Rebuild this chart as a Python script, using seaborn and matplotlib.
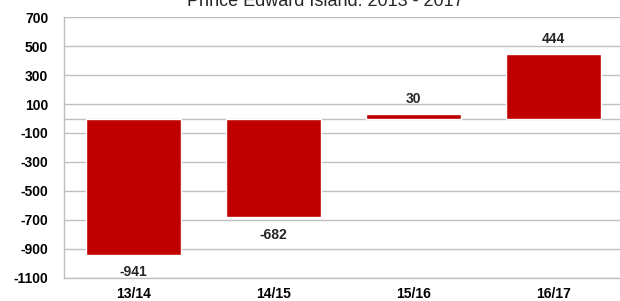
import matplotlib
matplotlib.use("Agg")
import matplotlib.pyplot as plt
import seaborn as sns
import pandas as pd

categories = ["13/14", "14/15", "15/16", "16/17"]
values = [-941, -682, 30, 444]
yticks = list(range(-1100, 701, 200))
title = "Prince Edward Island: 2013 - 2017"

sns.set_theme(style="white")
plt.rcParams["font.family"] = ["Liberation Sans", "DejaVu Sans"]

fig = plt.figure(figsize=(6.2, 3.01), dpi=100)
ax = fig.add_axes([63.5 / 620, 23.3 / 301, 560 / 620, 260.5 / 301])

df = pd.DataFrame({"cat": categories, "val": values})
sns.barplot(data=df, x="cat", y="val", color="#C00000", saturation=1,
            width=0.68, ax=ax, zorder=3)

fs = 10
ax.set_ylim(-1100, 700)
ax.set_xlim(-0.5, 3.5)
ax.set_yticks(yticks)
ax.set_yticklabels([str(t) for t in yticks], fontsize=fs, fontweight="bold")
ax.set_xticklabels(categories, fontsize=fs, fontweight="bold")
ax.set_xlabel("")
ax.set_ylabel("")
ax.tick_params(axis="both", length=0, colors="black")
ax.tick_params(axis="y", pad=11)
ax.tick_params(axis="x", pad=6.5)

for t in yticks:
    ax.axhline(t, color="#bfbfbf", lw=1, zorder=1)
ax.axhline(0, color="#bfbfbf", lw=1, zorder=1)

for s in ["top", "right"]:
    ax.spines[s].set_visible(False)
for s in ["left", "bottom"]:
    ax.spines[s].set_color("#bfbfbf")
    ax.spines[s].set_linewidth(1)

for i, v in enumerate(values):
    off = 11 if v >= 0 else -12.5
    ax.annotate(str(v), (i, v), xytext=(0, off), textcoords="offset points",
                ha="center", va="center", fontsize=fs, fontweight="bold")

fig.text(325 / 620, (301 - 6) / 301, title, ha="center", va="baseline", fontsize=13)

fig.savefig("out.png", dpi=100)
